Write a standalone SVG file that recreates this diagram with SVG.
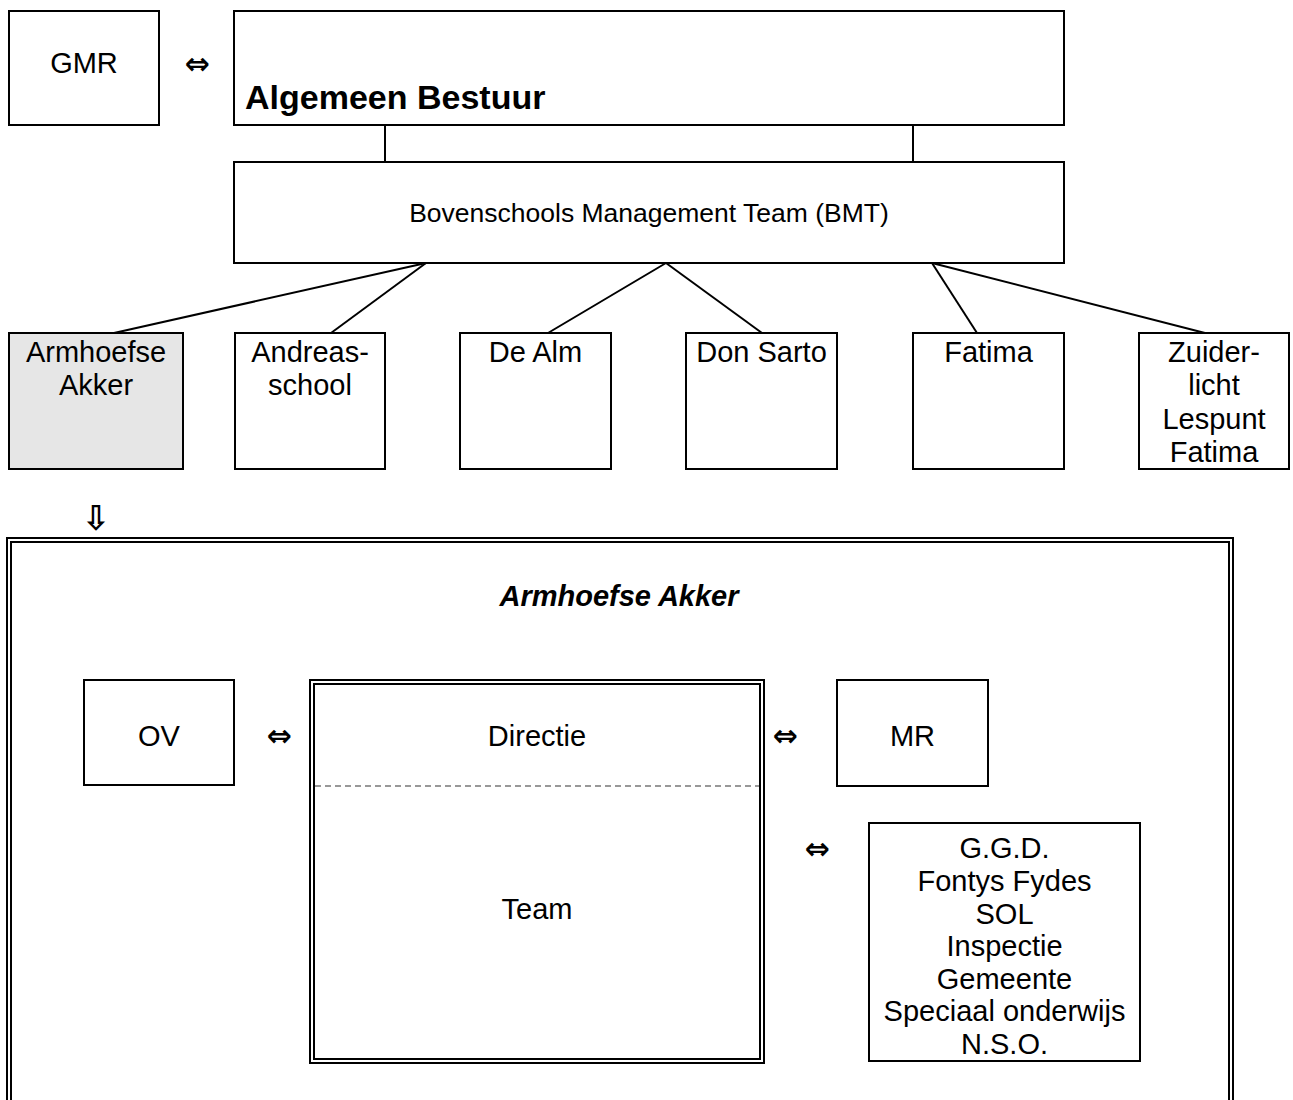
<svg xmlns="http://www.w3.org/2000/svg" width="1293" height="1100" viewBox="0 0 1293 1100">
<style>
.box{fill:#fff;stroke:#000;stroke-width:2}
.t{font-family:"Liberation Sans",Arial,sans-serif;font-size:29px;fill:#000;text-anchor:middle}
.sym{font-family:"DejaVu Sans",sans-serif;font-size:30px;font-weight:bold;fill:#000;text-anchor:middle}
.ln{stroke:#000;stroke-width:2;fill:none}
.dbl{fill:none;stroke:#000;stroke-width:2}
</style>
<rect x="0" y="0" width="1293" height="1100" fill="#fff"/>
<g id="connectors">
<line class="ln" x1="385" y1="125" x2="385" y2="162"/>
<line class="ln" x1="913" y1="125" x2="913" y2="162"/>
<line class="ln" x1="426" y1="263" x2="114" y2="333"/>
<line class="ln" x1="426" y1="263" x2="331" y2="333"/>
<line class="ln" x1="666" y1="263" x2="548" y2="333"/>
<line class="ln" x1="666" y1="263" x2="762" y2="333"/>
<line class="ln" x1="932" y1="263" x2="977" y2="333"/>
<line class="ln" x1="932" y1="263" x2="1205" y2="333"/>
</g>
<g id="gmr"><rect class="box" x="9" y="11" width="150" height="114"/><text class="t" x="84" y="73">GMR</text></g>
<text class="sym" x="197" y="74">⇔</text>
<g id="ab"><rect class="box" x="234" y="11" width="830" height="114"/><text x="245" y="109" style="font-family:'Liberation Sans',Arial,sans-serif;font-size:34px;font-weight:bold">Algemeen Bestuur</text></g>
<g id="bmt"><rect class="box" x="234" y="162" width="830" height="101"/><text class="t" x="649" y="222" style="font-size:26.5px">Bovenschools Management Team (BMT)</text></g>
<g id="armhoefse"><rect class="box" x="9" y="333" width="174" height="136" style="fill:#e6e6e6"/><text class="t" x="96" y="362">Armhoefse</text><text class="t" x="96" y="395">Akker</text></g>
<g id="andreas"><rect class="box" x="235" y="333" width="150" height="136"/><text class="t" x="310" y="362">Andreas-</text><text class="t" x="310" y="395">school</text></g>
<g id="dealm"><rect class="box" x="460" y="333" width="151" height="136"/><text class="t" x="535.5" y="362">De Alm</text></g>
<g id="donsarto"><rect class="box" x="686" y="333" width="151" height="136"/><text class="t" x="761.5" y="362">Don Sarto</text></g>
<g id="fatima"><rect class="box" x="913" y="333" width="151" height="136"/><text class="t" x="988.5" y="362">Fatima</text></g>
<g id="zuiderlicht"><rect class="box" x="1139" y="333" width="150" height="136"/><text class="t" x="1214" y="362">Zuider-</text><text class="t" x="1214" y="395">licht</text><text class="t" x="1214" y="429">Lespunt</text><text class="t" x="1214" y="462">Fatima</text></g>
<text class="sym" x="96" y="530" style="font-size:34px">⇩</text>
<g id="school-frame">
<rect class="dbl" x="7" y="538" width="1226" height="600"/>
<rect class="dbl" x="11" y="542" width="1218" height="600"/>
<text x="619" y="606" style="font-family:'Liberation Sans',Arial,sans-serif;font-size:29px;font-weight:bold;font-style:italic;text-anchor:middle">Armhoefse Akker</text>
</g>
<g id="ov"><rect class="box" x="84" y="680" width="150" height="105"/><text class="t" x="159" y="746">OV</text></g>
<text class="sym" x="279" y="746">⇔</text>
<g id="directie">
<rect class="dbl" x="310" y="680" width="454" height="383"/>
<rect class="dbl" x="314" y="684" width="446" height="375"/>
<line x1="315" y1="786" x2="759" y2="786" stroke="#777" stroke-width="1.5" stroke-dasharray="6,4"/>
<text class="t" x="537" y="746">Directie</text>
<text class="t" x="537" y="919">Team</text>
</g>
<text class="sym" x="785" y="746">⇔</text>
<g id="mr"><rect class="box" x="837" y="680" width="151" height="106"/><text class="t" x="912.5" y="746">MR</text></g>
<text class="sym" x="817" y="859">⇔</text>
<g id="partners"><rect class="box" x="869" y="823" width="271" height="238"/>
<text class="t" x="1004.5" y="858">G.G.D.</text>
<text class="t" x="1004.5" y="891">Fontys Fydes</text>
<text class="t" x="1004.5" y="923.5">SOL</text>
<text class="t" x="1004.5" y="956">Inspectie</text>
<text class="t" x="1004.5" y="988.5">Gemeente</text>
<text class="t" x="1004.5" y="1021">Speciaal onderwijs</text>
<text class="t" x="1004.5" y="1053.5">N.S.O.</text>
</g>
</svg>
